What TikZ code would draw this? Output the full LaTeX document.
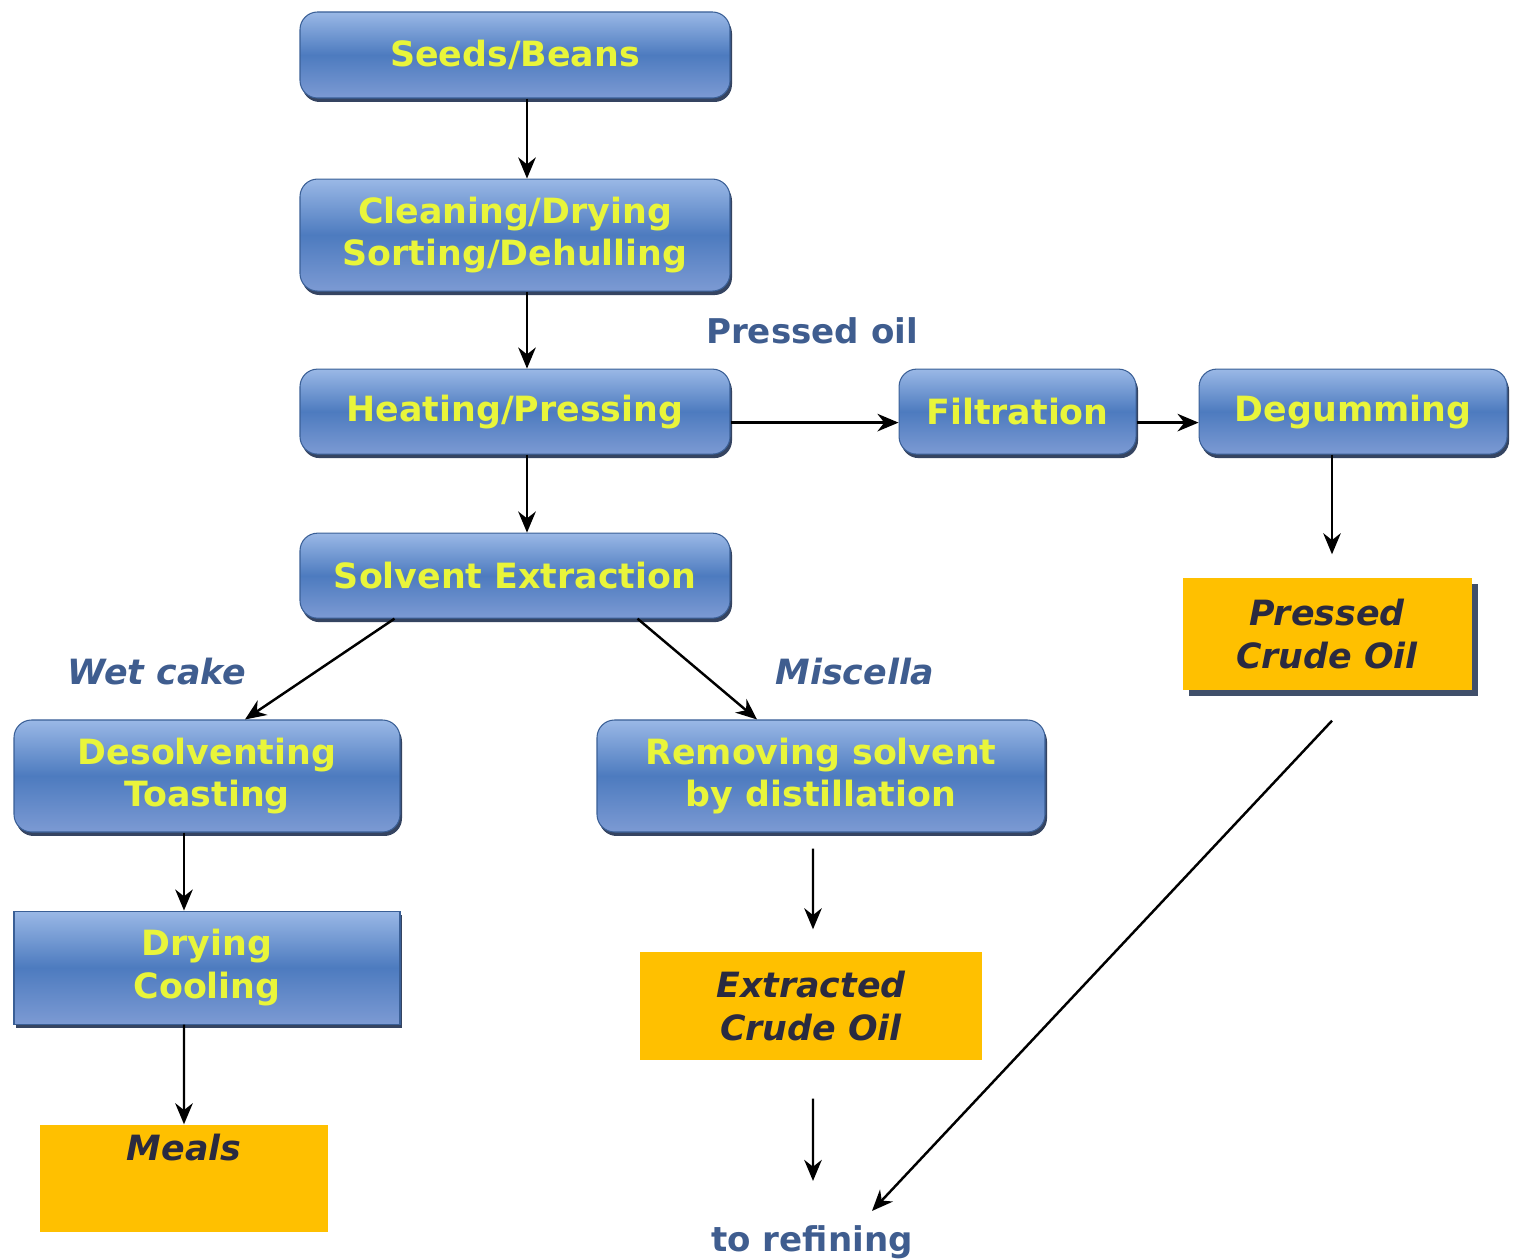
\documentclass[tikz,border=0pt]{standalone}
\usepackage{fontspec}
\setmainfont{DejaVu Sans}
\usepackage{xcolor}
\usetikzlibrary{positioning,shadows,arrows.meta}

\definecolor{blueTop}{HTML}{9AB8E6}
\definecolor{blueMid}{HTML}{4D7BBF}
\definecolor{blueBot}{HTML}{7C9AD3}
\definecolor{boxLine}{HTML}{3A5F96}
\definecolor{boxShadow}{HTML}{1F3050}
\definecolor{stepText}{HTML}{E9F53A}
\definecolor{oilFill}{HTML}{FFC000}
\definecolor{oilText}{HTML}{2A2A40}
\definecolor{flowText}{HTML}{3F5D8F}

\begin{document}
\begin{tikzpicture}[
    node distance=0.78cm and 1.68cm,
    process/.style={
        rectangle, rounded corners=5pt, draw=boxLine, line width=0.3pt,
        top color=blueTop, bottom color=blueBot, middle color=blueMid,
        drop shadow={shadow xshift=0.02cm, shadow yshift=-0.04cm, fill=boxShadow, opacity=0.9},
        text=stepText, font=\fontsize{9.9}{12.1}\selectfont\bfseries,
        align=center, inner sep=2pt
    },
    product/.style={
        rectangle, fill=oilFill, text=oilText,
        font=\fontsize{9.9}{12.1}\selectfont\bfseries\itshape,
        align=center, inner sep=2pt
    },
    flow/.style={text=flowText, font=\fontsize{9.7}{12}\selectfont\bfseries},
    arrow/.style={-{Stealth[length=6pt,width=5pt]}, line width=0.7pt, black}
]
\useasboundingbox (0,0) rectangle (15.15,-12.59);

% main column
\node[process, minimum width=4.3cm, minimum height=0.86cm] (seeds) at (5.15,-0.55) {Seeds/Beans};
\node[process, minimum width=4.3cm, minimum height=1.12cm, below=0.80cm of seeds] (cleaning) {Cleaning/Drying\\Sorting/Dehulling};
\node[process, minimum width=4.3cm, minimum height=0.85cm, below=0.77cm of cleaning] (heating) {Heating/Pressing};
\node[process, minimum width=4.3cm, minimum height=0.85cm, below=of heating] (solvent) {Solvent Extraction};

% pressed oil line
\node[process, minimum width=2.37cm, minimum height=0.85cm, right=of heating] (filtration) {Filtration};
\node[process, minimum width=3.08cm, minimum height=0.85cm, right=0.62cm of filtration] (degumming) {Degumming};
\node[product, minimum width=2.89cm, minimum height=1.12cm,
      drop shadow={shadow xshift=0.06cm, shadow yshift=-0.06cm, fill=boxShadow, opacity=0.85}]
      (pressedcrude) at (13.27,-6.34) {Pressed\\Crude Oil};

% meal line
\node[process, minimum width=3.86cm, minimum height=1.12cm] (desolv) at (2.07,-7.76) {Desolventing\\Toasting};
\node[process, rounded corners=0pt, minimum width=3.86cm, minimum height=1.13cm, below=of desolv] (drying) {Drying\\Cooling};
\node[product, minimum width=2.88cm, text height=0.25cm, text depth=0.62cm, inner sep=0.1cm] (meals) at (1.84,-11.785) {Meals};

% miscella line
\node[process, minimum width=4.48cm, minimum height=1.12cm] (removing) at (8.21,-7.76) {Removing solvent\\by distillation};
\node[product, minimum width=3.42cm, minimum height=1.08cm] (extracted) at (8.11,-10.06) {Extracted\\Crude Oil};
\node[flow] (refining) at (8.12,-12.42) {to refining};

% labels
\node[flow] (pressedoil) at (8.12,-3.31) {Pressed oil};
\node[flow, font=\fontsize{9.9}{12}\selectfont\bfseries\itshape] (wetcake) at (1.57,-6.72) {Wet cake};
\node[flow, font=\fontsize{9.9}{12}\selectfont\bfseries\itshape] (miscella) at (8.55,-6.72) {Miscella};

% connectors
\draw[arrow] ([xshift=0.12cm]seeds.south) -- ([xshift=0.12cm]cleaning.north);
\draw[arrow] ([xshift=0.12cm]cleaning.south) -- ([xshift=0.12cm]heating.north);
\draw[arrow] ([xshift=0.12cm]heating.south) -- ([xshift=0.12cm]solvent.north);
\draw[arrow] ([yshift=-0.11cm]heating.east) -- ([yshift=-0.11cm]filtration.west);
\draw[arrow] ([yshift=-0.11cm]filtration.east) -- ([yshift=-0.11cm]degumming.west);
\draw[arrow, shorten >=0.23cm] ([xshift=0.05cm]pressedcrude.north |- degumming.south) -- ([xshift=0.05cm]pressedcrude.north);
\draw[arrow] ([xshift=0.95cm]solvent.south west) -- ([xshift=0.38cm]desolv.north);
\draw[arrow] ([xshift=-0.93cm]solvent.south east) -- ([xshift=-0.64cm]removing.north);
\draw[arrow] ([xshift=-0.23cm]desolv.south) -- ([xshift=-0.23cm]drying.north);
\draw[arrow] ([xshift=-0.23cm]drying.south) -- (meals.north);
\draw[arrow, shorten <=0.16cm, shorten >=0.22cm] ([xshift=-0.08cm]removing.south) -- ([xshift=0.02cm]extracted.north);
\draw[arrow, shorten <=0.38cm] ([xshift=0.02cm]extracted.south) -- ([xshift=0.01cm, yshift=0.32cm]refining.north);
\draw[arrow] ([xshift=0.05cm, yshift=-0.30cm]pressedcrude.south) -- ([xshift=0.60cm, yshift=0.02cm]refining.north);

\end{tikzpicture}
\end{document}
